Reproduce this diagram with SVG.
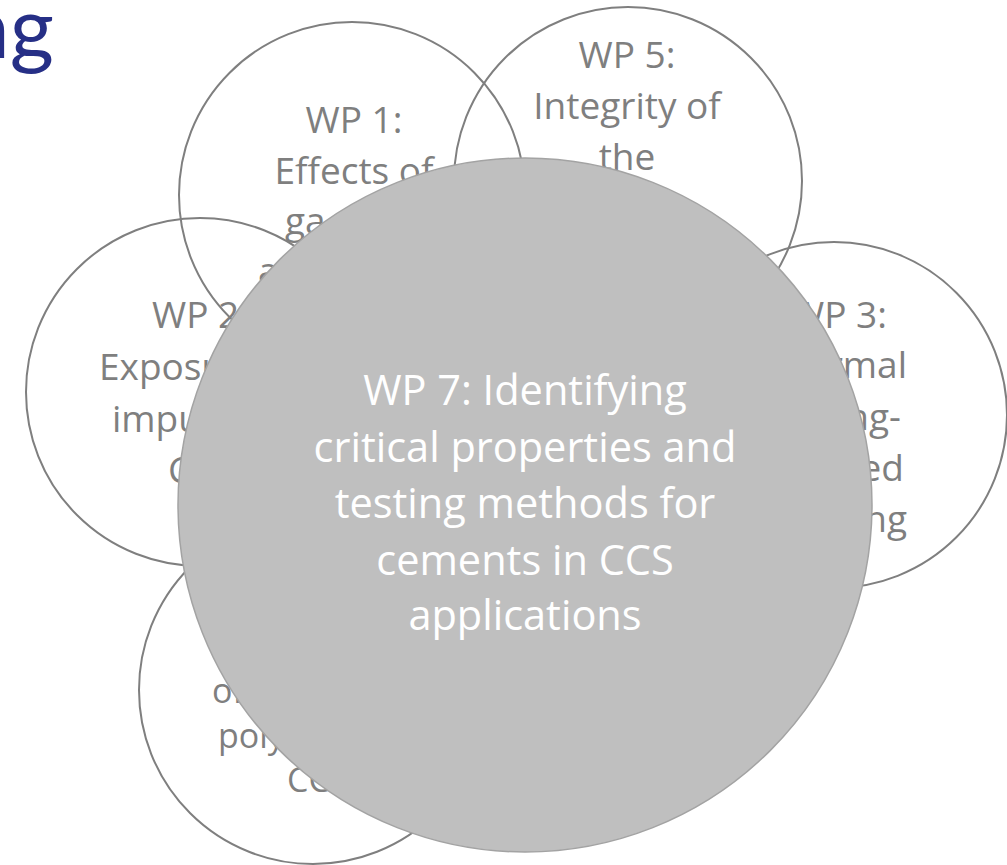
<svg xmlns="http://www.w3.org/2000/svg" width="1007" height="865" viewBox="0 0 1007 865">
<style>
.ring{fill:none;stroke:#7f7f7f;stroke-width:2}
.core{fill:#bfbfbf;stroke:#a3a3a3;stroke-width:1.5}
.t{font-family:"Open Sans","Liberation Sans",sans-serif;font-size:37px;fill:#7f7f7f}
.s{font-size:34px}
.m{text-anchor:middle}
.e{text-anchor:end}
.w{font-family:"Open Sans","Liberation Sans",sans-serif;font-size:41.5px;fill:#ffffff;text-anchor:middle}
.title{font-family:Lato,"Liberation Sans",sans-serif;font-size:85px;fill:#262f86;text-anchor:end}
</style>
<rect width="1007" height="865" fill="#ffffff"/>
<text class="title" x="54" y="58">ng</text>
<g id="wp1">
<circle class="ring" cx="352" cy="195" r="173"/>
<text class="t m" x="354" y="133">WP 1:</text>
<text class="t m" x="354" y="184">Effects of</text>
<text class="t" x="285" y="234">ga</text>
<text class="t" x="258" y="284">a</text>
</g>
<g id="wp5">
<circle class="ring" cx="628" cy="181" r="174"/>
<text class="t m" x="627" y="68">WP 5:</text>
<text class="t m" x="627" y="119">Integrity of</text>
<text class="t m" x="627" y="170">the</text>
</g>
<g id="wp2">
<circle class="ring" cx="200" cy="392" r="174"/>
<text class="t" x="152" y="328">WP 2:</text>
<text class="t" x="99" y="380">Exposure</text>
<text class="t" x="112" y="432">impurities</text>
<text class="t" x="168" y="483">CO2</text>
</g>
<g id="wp3">
<circle class="ring" cx="834" cy="415" r="173"/>
<text class="t e" x="887" y="328">WP 3:</text>
<text class="t e" x="907" y="378">Thermal</text>
<text class="t e" x="901" y="430">cycling-</text>
<text class="t e" x="904" y="481">induced</text>
<text class="t e" x="907" y="532">cracking</text>
</g>
<g id="wp4">
<circle class="ring" cx="313" cy="690" r="174"/>
<text class="t s" x="212" y="703">of</text>
<text class="t s" x="218" y="748">polymers</text>
<text class="t s" x="287" y="792">CCS</text>
</g>
<g id="wp7">
<circle class="core" cx="525" cy="505" r="347"/>
<text class="w" x="525" y="405">WP 7: Identifying</text>
<text class="w" x="525" y="462">critical properties and</text>
<text class="w" x="525" y="518">testing methods for</text>
<text class="w" x="525" y="575">cements in CCS</text>
<text class="w" x="525" y="630">applications</text>
</g>
<g id="connectors"></g>
</svg>
